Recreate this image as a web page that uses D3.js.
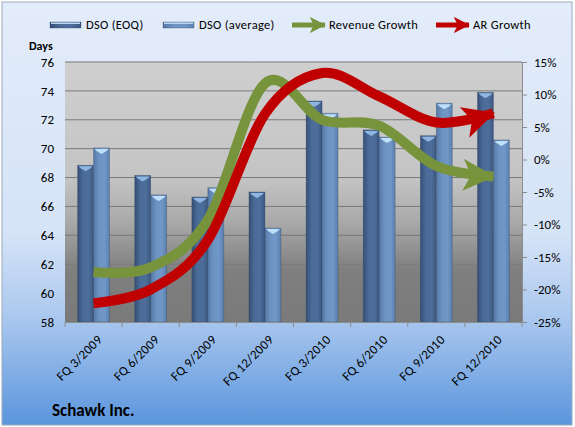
<!DOCTYPE html>
<html>
<head>
<meta charset="utf-8">
<script src="https://cdn.jsdelivr.net/npm/d3@7"></script>
<style>
  body { margin: 0; background: #fff; }
  text { font-family: Carlito, Lato, "Open Sans", sans-serif; fill: #000; }
</style>
</head>
<body>
<svg id="canvas" width="575" height="427"></svg>
<script>
// chart data
let quarters = ['FQ 3/2009', 'FQ 6/2009', 'FQ 9/2009', 'FQ 12/2009', 'FQ 3/2010', 'FQ 6/2010', 'FQ 9/2010', 'FQ 12/2010']
let dsoEoq = [68.85, 68.15, 66.65, 67.0, 73.3, 71.3, 70.9, 73.9]
let dsoAvg = [70.05, 66.8, 67.3, 64.5, 72.45, 70.8, 73.15, 70.6]
let revenueGrowth = [-17.3, -16.6, -9.3, 11.7, 6.1, 5.2, -1.0, -2.6]
let arGrowth = [-22.1, -20.0, -12.4, 7.0, 13.3, 9.7, 5.7, 7.1]
let dayTicks = [58, 60, 62, 64, 66, 68, 70, 72, 74, 76]
let pctTicks = [-25, -20, -15, -10, -5, 0, 5, 10, 15]

let canvas = d3.select('#canvas')
let defs = canvas.append('defs')

let grad = (id, stops, vertical) => {
    let g = defs.append('linearGradient').attr('id', id)
        .attr('x1', 0).attr('y1', 0)
        .attr('x2', vertical ? 0 : 1).attr('y2', vertical ? 1 : 0)
    stops.forEach(s => g.append('stop').attr('offset', s[0]).attr('stop-color', s[1]))
}
grad('bgGrad', [['0', '#e3ecfa'], ['0.55', '#d5e3f7'], ['0.75', '#a9c7ee'], ['1', '#5b95dc']], true)
grad('plotGrad', [['0', '#cfcfcf'], ['0.45', '#c4c4c4'], ['0.62', '#a8a8a8'], ['0.8', '#7f7f7f'], ['1', '#7a7a7a']], true)
grad('darkBar', [['0', '#344f76'], ['0.35', '#4b6c98'], ['0.7', '#4d6e9a'], ['1', '#3a5780']], false)
grad('lightBar', [['0', '#5678a6'], ['0.35', '#6d93c3'], ['0.7', '#7097c6'], ['1', '#5a7fae']], false)

// arrow heads
let arrow = (id, color) => {
    defs.append('marker').attr('id', id)
        .attr('viewBox', '0 0 10 10').attr('refX', 9.5).attr('refY', 5)
        .attr('markerWidth', 3.2).attr('markerHeight', 3.2)
        .attr('markerUnits', 'strokeWidth')
        .attr('orient', 'auto')
        .append('path').attr('d', 'M0,0 L10,5 L0,10 L2.5,5 Z').attr('fill', color)
}
arrow('greenHead', '#77933c')
arrow('redHead', '#c00000')

// background
canvas.append('rect').attr('x', 2).attr('y', 2).attr('width', 570).attr('height', 423)
    .attr('fill', 'url(#bgGrad)').attr('stroke', '#9aa9bd').attr('stroke-width', 1)

let plotLeft = 65, plotRight = 522, plotTop = 62, plotBottom = 322

let x = d3.scaleBand().domain(quarters).range([plotLeft, plotRight])
let xSub = d3.scaleBand().domain(['eoq', 'avg']).range([0, x.bandwidth()]).paddingInner(0).paddingOuter(0.79)
let yDays = d3.scaleLinear().domain([58, 76]).range([plotBottom, plotTop])
let yPct = d3.scaleLinear().domain([-25, 15]).range([plotBottom, plotTop])

canvas.append('rect').attr('x', plotLeft).attr('y', plotTop)
    .attr('width', plotRight - plotLeft).attr('height', plotBottom - plotTop)
    .attr('fill', 'url(#plotGrad)')

// gridlines
canvas.append('g').selectAll('line').data(dayTicks.slice(1)).enter().append('line')
    .attr('x1', plotLeft).attr('x2', plotRight)
    .attr('y1', d => yDays(d)).attr('y2', d => yDays(d))
    .attr('stroke', '#7a7a7a').attr('stroke-width', 1)

// bars
let seriesList = [
    { key: 'eoq', values: dsoEoq, fill: 'url(#darkBar)', cap: '#8fb6e0' },
    { key: 'avg', values: dsoAvg, fill: 'url(#lightBar)', cap: '#bfe0fa' }
]
seriesList.forEach(s => {
    let g = canvas.append('g')
    let bars = g.selectAll('g').data(quarters).enter().append('g')
    bars.append('rect')
        .attr('x', (d) => x(d) + xSub(s.key))
        .attr('y', (d, i) => yDays(s.values[i]))
        .attr('width', xSub.bandwidth())
        .attr('height', (d, i) => plotBottom - yDays(s.values[i]))
        .attr('fill', s.fill)
        .attr('stroke', 'rgba(40,60,90,0.35)').attr('stroke-width', 0.8)
    bars.append('path')
        .attr('d', (d, i) => {
            let bx = x(d) + xSub(s.key), w = xSub.bandwidth(), ty = yDays(s.values[i])
            return 'M' + (bx + 1) + ',' + (ty + 1) + ' L' + (bx + w - 1) + ',' + (ty + 1) +
                ' L' + (bx + w - 3) + ',' + (ty + 3) + ' L' + (bx + w / 2) + ',' + (ty + 6) +
                ' L' + (bx + 3) + ',' + (ty + 3) + ' Z'
        })
        .attr('fill', s.cap)
})

// axes
let xAxis = d3.axisBottom(x).tickSize(0).tickFormat('')
let xg = canvas.append('g').attr('transform', 'translate(0,' + plotBottom + ')').call(xAxis)
xg.select('.domain').attr('stroke', '#8c8c8c')
xg.selectAll('.bound').data(d3.range(quarters.length + 1)).enter().append('line')
    .attr('x1', i => plotLeft + i * x.step()).attr('x2', i => plotLeft + i * x.step())
    .attr('y1', 0).attr('y2', 5).attr('stroke', '#8c8c8c')
xg.selectAll('.lab').data(quarters).enter().append('text')
    .attr('transform', d => 'translate(' + (x(d) + x.bandwidth() / 2 + 3) + ',' + 12 + ') rotate(-45)')
    .attr('text-anchor', 'end').attr('dy', '0.7em')
    .style('font-size', '13px').style('letter-spacing', '0.3px').text(d => d)

let yAxisL = d3.axisLeft(yDays).tickValues(dayTicks).tickSize(0).tickPadding(11)
let ygl = canvas.append('g').attr('transform', 'translate(' + plotLeft + ',0)').call(yAxisL)
ygl.select('.domain').remove()
ygl.attr('font-family', null).selectAll('text').style('font-size', '13px')

let yAxisR = d3.axisRight(yPct).tickValues(pctTicks).tickSize(5).tickPadding(7).tickFormat(d => d + '%')
let ygr = canvas.append('g').attr('transform', 'translate(' + plotRight + ',0)').call(yAxisR)
ygr.select('.domain').attr('stroke', '#8c8c8c')
ygr.selectAll('line').attr('stroke', '#8c8c8c')
ygr.attr('font-family', null).selectAll('text').style('font-size', '13px')
canvas.selectAll('.tick text').attr('fill', '#000')

// growth lines
let lineGen = (vals) => d3.line()
    .x((d, i) => x(quarters[i]) + x.bandwidth() / 2)
    .y(d => yPct(d))
    .curve(d3.curveCardinal.tension(0))(vals)

canvas.append('path').attr('d', lineGen(revenueGrowth))
    .attr('fill', 'none').attr('stroke', '#77933c').attr('stroke-width', 10)
    .attr('marker-end', 'url(#greenHead)')
canvas.append('path').attr('d', lineGen(arGrowth))
    .attr('fill', 'none').attr('stroke', '#c00000').attr('stroke-width', 10)
    .attr('marker-end', 'url(#redHead)')

// legend
let legend = canvas.append('g').attr('transform', 'translate(0,25)')
let legendItems = [
    { name: 'DSO (EOQ)', x: 50, kind: 'bar', fill: 'url(#darkBar)' },
    { name: 'DSO (average)', x: 163, kind: 'bar', fill: 'url(#lightBar)' },
    { name: 'Revenue Growth', x: 292, kind: 'arrow', color: '#77933c', head: 'greenHead' },
    { name: 'AR Growth', x: 436, kind: 'arrow', color: '#c00000', head: 'redHead' }
]
legendItems.forEach(it => {
    if (it.kind === 'bar') {
        legend.append('rect').attr('x', it.x).attr('y', -3).attr('width', 31).attr('height', 6)
            .attr('fill', it.fill).attr('stroke', 'rgba(40,60,90,0.5)').attr('stroke-width', 0.6)
        legend.append('rect').attr('x', it.x + 1).attr('y', -2.5).attr('width', 29).attr('height', 1.5)
            .attr('fill', '#bcd6f2')
    } else {
        legend.append('path').attr('d', 'M' + it.x + ',0 L' + (it.x + 33) + ',0')
            .attr('stroke', it.color).attr('stroke-width', 5).attr('marker-end', 'url(#' + it.head + ')')
    }
    legend.append('text').attr('x', it.x + (it.kind === 'bar' ? 36 : 37)).attr('y', 0).attr('dy', '0.35em')
        .style('font-size', '12.5px').style('letter-spacing', '0.3px').text(it.name)
})

canvas.append('text').attr('x', 29).attr('y', 50).style('font-size', '12px').style('font-weight', 'bold').text('Days')
canvas.append('text').attr('x', 52).attr('y', 416).style('font-size', '17px').style('font-weight', 'bold').text('Schawk Inc.')
</script>
</body>
</html>
